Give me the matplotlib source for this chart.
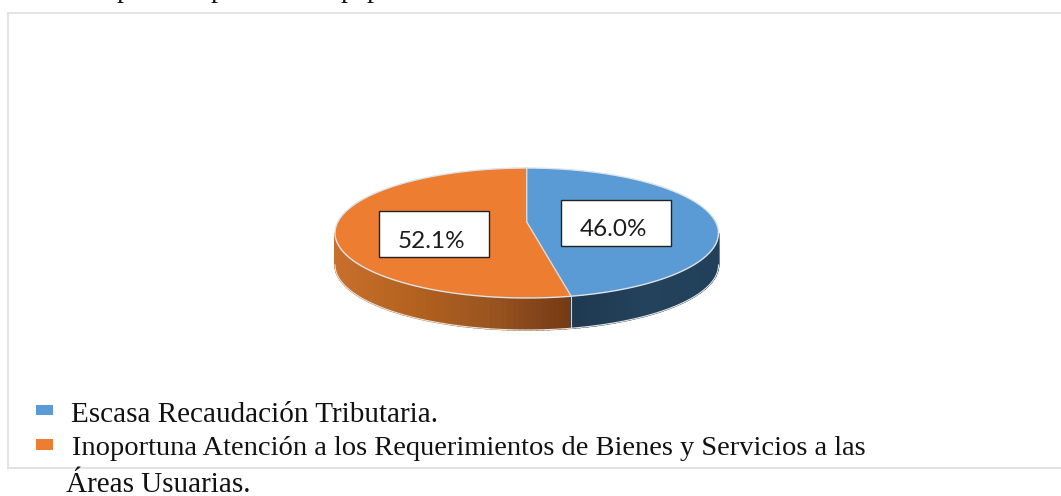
import numpy as np
import matplotlib
matplotlib.use("Agg")
import matplotlib.pyplot as plt
from matplotlib.patches import Rectangle, Polygon
from matplotlib.colors import LinearSegmentedColormap

categories = ["Escasa Recaudación Tributaria.",
              "Inoportuna Atención a los Requerimientos de Bienes y Servicios a las"]
legend_extra = "Áreas Usuarias."
values = [46.0, 52.1]
value_labels = ["46.0%", "52.1%"]
colors = ["#5B9BD5", "#ED7D31"]

W, H = 1061, 496
fig = plt.figure(figsize=(W / 100, H / 100), dpi=100, facecolor="white")

# page axes in pixel coordinates
page = fig.add_axes([0, 0, 1, 1])
page.set_xlim(0, W)
page.set_ylim(H, 0)
page.axis("off")

# pie axes covers the ellipse bounding box
L, R, T, B = 335.0, 718.5, 168.0, 298.0
pie_ax = fig.add_axes([L / W, 1 - B / H, (R - L) / W, (B - T) / H], zorder=2)
wedges, _ = pie_ax.pie(values, startangle=90, counterclock=False, colors=colors,
                       radius=1.0, wedgeprops=dict(linewidth=0))
pie_ax.set_aspect("auto")
pie_ax.set_xlim(-1, 1)
pie_ax.set_ylim(-1, 1)
pie_ax.axis("off")

depth = 32.0 / ((B - T) / 2)
# boundary angle of the front edge, nudged for the picture's perspective
front = np.deg2rad(wedges[0].theta1 + 2.2)
apex = (0.0, 0.17)

blue_cm = LinearSegmentedColormap.from_list("b", ["#1E3950", "#24425C", "#21405A"])
orange_cm = LinearSegmentedColormap.from_list("o", ["#C96F2D", "#B3621F", "#9A5420", "#743A14"])


def side(t0, t1, cmap, n=60):
    ts = np.linspace(t0, t1, n + 1)
    for i in range(n):
        a = np.linspace(ts[i], ts[i + 1], 3)
        x, y = np.cos(a), np.sin(a)
        pts = np.r_[np.c_[x, y], np.c_[x[::-1], y[::-1] - depth]]
        xm = (x.mean() - np.cos(t0)) / (np.cos(t1) - np.cos(t0))
        c = cmap(float(xm))
        pie_ax.add_patch(Polygon(pts, closed=True, fc=c, ec=c, lw=1.1,
                                 clip_on=False, zorder=1))


side(np.pi, 2 * np.pi + front, orange_cm)
side(2 * np.pi + front, 2 * np.pi, blue_cm)


def top_face(t0, t1, colour):
    a = np.linspace(t0, t1, 160)
    pts = np.r_[[apex], np.c_[np.cos(a), np.sin(a)]]
    pie_ax.add_patch(Polygon(pts, closed=True, fc=colour, ec="none", clip_on=False, zorder=3))


for w in wedges:
    w.set_visible(False)
top_face(np.pi / 2, front, colors[0])
top_face(front, -1.5 * np.pi, colors[1])

# light rim and slice lines
a = np.linspace(0, 2 * np.pi, 400)
pie_ax.plot(np.cos(a), np.sin(a), color="#DDE3E8", lw=1.0, zorder=4, clip_on=False)
pie_ax.plot([0, apex[0], np.cos(front)], [1, apex[1], np.sin(front)], color="#DDDAD6",
            lw=1.0, zorder=4, clip_on=False)
pie_ax.plot([np.cos(front)] * 2, [np.sin(front), np.sin(front) - depth], color="#D8D4D0",
            lw=0.8, zorder=4, clip_on=False)
b = np.linspace(np.pi, 2 * np.pi, 200)
pie_ax.plot(np.cos(b), np.sin(b) - depth, color="#E4E4E4", lw=0.8, zorder=4, clip_on=False)

# frame: open on the right, running off the page
frame = "#E1E1E1"
page.plot([8, 8], [12.5, 468], color=frame, lw=1.3)
page.plot([8, 1061], [12.5, 12.5], color=frame, lw=1.3)
page.plot([8, 1061], [468, 468], color=frame, lw=1.3)

# value boxes
overlay = fig.add_axes([0, 0, 1, 1], zorder=5)
overlay.set_xlim(0, W)
overlay.set_ylim(H, 0)
overlay.axis("off")
boxes = [(561, 200, 110, 46), (379, 211, 110, 46)]
txt = [(613, 236), (431, 247.5)]
for (x, y, w, h), (tx, ty), lab in zip(boxes, txt, value_labels):
    overlay.add_patch(Rectangle((x, y), w, h, fc="white", ec="#222222", lw=1.0))
    overlay.text(tx, ty, lab, ha="center", va="baseline", fontsize=17.5,
                 family="Lato", color="#1c1c1c")

# legend, set as text
serif = "Liberation Serif"
overlay.add_patch(Rectangle((35.5, 405), 17.5, 10, fc=colors[0], ec="none"))
overlay.add_patch(Rectangle((35.5, 438.5), 17.5, 11, fc=colors[1], ec="none"))
overlay.text(71, 422, categories[0], fontsize=21, family=serif, va="baseline", color="#111111")
overlay.text(72, 455, categories[1], fontsize=20.5, family=serif, va="baseline", color="#111111")
overlay.text(66, 492, legend_extra, fontsize=21, family=serif, va="baseline", color="#111111")

# descenders of the sentence cropped by the top of the page
for x in (124, 218, 348, 374):
    overlay.text(x, -3, "p", fontsize=20.5, family=serif, ha="center", va="baseline",
                 color="#111111", clip_on=False)

fig.savefig("out.png", dpi=100)
